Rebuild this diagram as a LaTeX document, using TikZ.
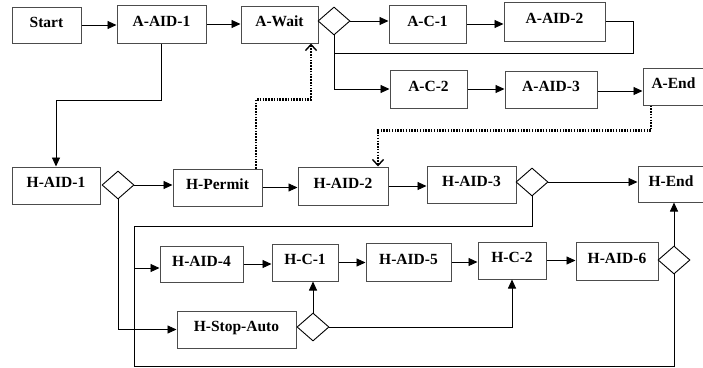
\documentclass[tikz,border=0pt]{standalone}
\usepackage{fontspec}
\newfontfamily\boxfont{Liberation Serif}
\usetikzlibrary{arrows.meta,shapes.geometric}
\begin{document}
\begin{tikzpicture}[x=1pt,y=-1pt,
  box/.style={draw=black!70,line width=1pt,inner sep=0pt,text height=10pt,text depth=6pt,font=\boxfont\fontsize{15.5}{18}\selectfont\bfseries},
  dia/.style={draw=black,line width=0.9pt,diamond,inner sep=0pt,minimum width=32pt,minimum height=28pt},
  line/.style={draw=black,line width=0.9pt},
  arr/.style={line,-{Triangle[length=9pt,width=8pt]}},
  dotarr/.style={draw=black,line width=2.4pt,dash pattern=on 1.5pt off 1.3pt,-{Straight Barb[length=6pt,width=11pt,line width=1.4pt]}}]
\useasboundingbox (0,0) rectangle (703,367);
% boxes
\node[box,minimum width=69pt,minimum height=36pt] (start) at (46.5,25) {Start};
\node[box,minimum width=89pt,minimum height=38pt] (aaid1) at (161.5,24) {A-AID-1};
\node[box,minimum width=77pt,minimum height=37pt] (await) at (279.5,24.5) {A-Wait};
\node[box,minimum width=77pt,minimum height=38pt] (ac1) at (427.5,24) {A-C-1};
\node[box,minimum width=101pt,minimum height=39pt] (aaid2) at (554.5,21.5) {A-AID-2};
\node[box,minimum width=77pt,minimum height=38pt] (ac2) at (428.5,89) {A-C-2};
\node[box,minimum width=92pt,minimum height=37pt] (aaid3) at (551,89.5) {A-AID-3};
\node[box,minimum width=61pt,minimum height=37pt] (aend) at (673.5,86.5) {A-End};
\node[box,minimum width=88pt,minimum height=37pt] (haid1) at (56,185.5) {H-AID-1};
\node[box,minimum width=89pt,minimum height=37pt] (hpermit) at (217.5,187.5) {H-Permit};
\node[box,minimum width=90pt,minimum height=38pt] (haid2) at (343,186) {H-AID-2};
\node[box,minimum width=89pt,minimum height=37pt] (haid3) at (471.5,184.5) {H-AID-3};
\node[box,minimum width=66pt,minimum height=36pt] (hend) at (671,184) {H-End};
\node[box,minimum width=83pt,minimum height=36pt] (haid4) at (201.5,264) {H-AID-4};
\node[box,minimum width=66pt,minimum height=37pt] (hc1) at (305,262.5) {H-C-1};
\node[box,minimum width=85pt,minimum height=38pt] (haid5) at (408.5,262) {H-AID-5};
\node[box,minimum width=68pt,minimum height=37pt] (hc2) at (512,260.5) {H-C-2};
\node[box,minimum width=82pt,minimum height=38pt] (haid6) at (617,261) {H-AID-6};
\node[box,minimum width=119pt,minimum height=37pt] (hstop) at (236.5,329.5) {H-Stop-Auto};
% diamonds
\node[dia] (d1) at (334,21) {};
\node[dia] (d2) at (118,185) {};
\node[dia] (d3) at (532,182) {};
\node[dia] (d4) at (674,260) {};
\node[dia] (d5) at (313,327) {};
% bend points
\coordinate (b1) at (633,53);
\coordinate (c1) at (134,226);
\coordinate (c2) at (134,366);
\coordinate (c3) at (134,268);
% top row
\draw[arr] (start.east) -- (start.east -| aaid1.west);
\draw[arr] (aaid1.east) -- (aaid1.east -| await.west);
\draw[arr] (d1.east) -- (d1.east -| ac1.west);
\draw[arr] (ac1.east) -- (ac1.east -| aaid2.west);
\draw[line] (aaid2.east) -| (b1) -- (b1 -| d1.south);
\draw[arr] (d1.south) |- (ac2.west);
\draw[arr] (ac2.east) -- (ac2.east -| aaid3.west);
\draw[arr] ([yshift=-1.5pt]aaid3.east) -- ([yshift=-1.5pt]aaid3.east -| aend.west);
\draw[arr] (aaid1.south) -- ++(0,57) -| (haid1.north);
% dotted links
\draw[dotarr] ([xshift=-22.5pt]aend.south) -- ++(0,25) -| ([xshift=35pt]haid2.north);
\draw[dotarr] ([xshift=38.5pt]hpermit.north) -- ++(0,-69) -| ([xshift=31.5pt]await.south);
% H row
\draw[arr] (d2.east) -- (d2.east -| hpermit.west);
\draw[arr] (hpermit.east) -- (hpermit.east -| haid2.west);
\draw[arr] (haid2.east) -- (haid2.east -| haid3.west);
\draw[arr] (d3.east) -- (d3.east -| hend.west);
\draw[line] (d3.south) |- (c1) -- (c2) -| (d4.south);
\draw[arr] (c3) -- (c3 -| haid4.west);
\draw[arr] (d2.south) |- (hstop.west);
\draw[arr] (haid4.east) -- (haid4.east -| hc1.west);
\draw[arr] (hc1.east) -- (hc1.east -| haid5.west);
\draw[arr] (haid5.east) -- (haid5.east -| hc2.west);
\draw[arr] (hc2.east) -- (hc2.east -| haid6.west);
\draw[arr] (d4.north) -- (d4.north |- hend.south);
\draw[arr] (d5.north) -- (d5.north |- hc1.south);
\draw[arr] (d5.east) -| (hc2.south);
\end{tikzpicture}
\end{document}
